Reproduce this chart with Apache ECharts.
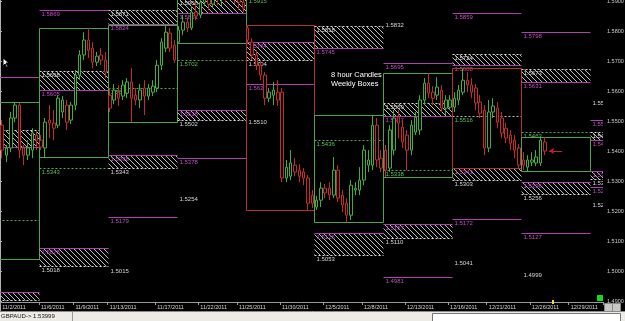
<!DOCTYPE html>
<html><head><meta charset="utf-8">
<script src="https://cdn.jsdelivr.net/npm/echarts@6/dist/echarts.min.js"></script>
<style>html,body{margin:0;padding:0;background:#000;}#c{width:625px;height:321px;}</style>
</head><body><div id="c"></div>
<script>
// 8-hour candles [open, close, low, high]
const candles = [
[1.5486,1.5403,1.5376,1.5503],[1.5386,1.5410,1.5363,1.5420],[1.5410,1.5510,1.5396,1.5530],[1.5510,1.5553,1.5496,1.5563],
[1.5553,1.5403,1.5376,1.5560],[1.5410,1.5386,1.5353,1.5420],[1.5386,1.5410,1.5370,1.5436],[1.5403,1.5460,1.5376,1.5476],
[1.5453,1.5436,1.5403,1.5470],
[1.5436,1.5413,1.5403,1.5453],[1.5410,1.5496,1.5380,1.5510],[1.5503,1.5493,1.5443,1.5553],[1.5493,1.5476,1.5436,1.5536],
[1.5486,1.5576,1.5476,1.5586],[1.5530,1.5570,1.5510,1.5583],[1.5553,1.5496,1.5470,1.5570],[1.5503,1.5553,1.5490,1.5563],
[1.5553,1.5653,1.5536,1.5670],[1.5653,1.5720,1.5636,1.5736],[1.5720,1.5770,1.5703,1.5796],[1.5770,1.5736,1.5710,1.5810],
[1.5743,1.5696,1.5676,1.5763],[1.5696,1.5716,1.5683,1.5730],[1.5720,1.5703,1.5686,1.5743],[1.5703,1.5663,1.5643,1.5730],
[1.5586,1.5543,1.5530,1.5610],[1.5570,1.5603,1.5556,1.5623],[1.5596,1.5576,1.5550,1.5620],[1.5583,1.5620,1.5570,1.5636],
[1.5593,1.5630,1.5576,1.5643],[1.5630,1.5576,1.5496,1.5676],[1.5586,1.5570,1.5553,1.5610],[1.5570,1.5603,1.5543,1.5623],
[1.5610,1.5583,1.5520,1.5636],[1.5583,1.5610,1.5570,1.5623],[1.5596,1.5616,1.5583,1.5636],[1.5610,1.5686,1.5596,1.5703],
[1.5686,1.5763,1.5670,1.5776],[1.5743,1.5796,1.5730,1.5820],[1.5793,1.5743,1.5730,1.5810],[1.5753,1.5703,1.5693,1.5770],
[1.5763,1.5803,1.5760,1.5816],[1.5803,1.5830,1.5786,1.5853],[1.5830,1.5810,1.5796,1.5843],[1.5810,1.5863,1.5803,1.5883],
[1.5863,1.5850,1.5836,1.5896],[1.5853,1.5896,1.5843,1.5920],[1.5896,1.5930,1.5883,1.5953],[1.5930,1.5890,1.5870,1.5950],
[1.5890,1.5923,1.5876,1.5943],[1.5923,1.5910,1.5886,1.5963],[1.5910,1.5936,1.5883,1.5956],[1.5936,1.5916,1.5896,1.5970],
[1.5916,1.5943,1.5903,1.5963],[1.5943,1.5916,1.5890,1.5956],[1.5916,1.5896,1.5870,1.5930],[1.5896,1.5876,1.5863,1.5916],
[1.5810,1.5770,1.5756,1.5820],[1.5763,1.5720,1.5703,1.5776],[1.5720,1.5686,1.5670,1.5736],[1.5686,1.5653,1.5636,1.5703],
[1.5653,1.5576,1.5553,1.5663],[1.5576,1.5596,1.5563,1.5610],[1.5586,1.5603,1.5553,1.5630],[1.5596,1.5570,1.5550,1.5636],
[1.5596,1.5310,1.5296,1.5610],[1.5310,1.5346,1.5296,1.5370],[1.5316,1.5360,1.5303,1.5403],[1.5353,1.5330,1.5316,1.5376],
[1.5336,1.5316,1.5296,1.5356],[1.5330,1.5310,1.5286,1.5343],[1.5310,1.5226,1.5203,1.5320],[1.5253,1.5226,1.5210,1.5270],
[1.5213,1.5236,1.5203,1.5250],[1.5236,1.5276,1.5213,1.5296],[1.5276,1.5260,1.5243,1.5290],[1.5276,1.5253,1.5236,1.5296],
[1.5253,1.5336,1.5243,1.5380],[1.5336,1.5243,1.5230,1.5353],[1.5253,1.5220,1.5196,1.5270],[1.5226,1.5186,1.5163,1.5243],
[1.5186,1.5286,1.5170,1.5303],[1.5270,1.5276,1.5253,1.5296],[1.5270,1.5303,1.5253,1.5346],[1.5303,1.5403,1.5286,1.5420],
[1.5353,1.5370,1.5330,1.5403],[1.5353,1.5486,1.5336,1.5520],[1.5486,1.5370,1.5346,1.5510],[1.5376,1.5343,1.5330,1.5403],
[1.5403,1.5336,1.5313,1.5420],[1.5343,1.5470,1.5330,1.5486],[1.5403,1.5510,1.5386,1.5536],[1.5513,1.5493,1.5443,1.5536],
[1.5480,1.5430,1.5410,1.5503],[1.5453,1.5403,1.5336,1.5470],[1.5403,1.5486,1.5386,1.5503],[1.5463,1.5513,1.5453,1.5530],
[1.5470,1.5570,1.5453,1.5586],[1.5570,1.5626,1.5553,1.5643],[1.5626,1.5593,1.5576,1.5660],[1.5596,1.5576,1.5553,1.5616],
[1.5586,1.5613,1.5570,1.5646],[1.5603,1.5543,1.5530,1.5620],[1.5543,1.5570,1.5520,1.5586],[1.5546,1.5570,1.5536,1.5586],
[1.5546,1.5576,1.5530,1.5596],[1.5570,1.5603,1.5553,1.5620],[1.5596,1.5636,1.5586,1.5676],[1.5636,1.5620,1.5596,1.5663],
[1.5620,1.5596,1.5576,1.5643],[1.5610,1.5560,1.5536,1.5623],[1.5563,1.5526,1.5510,1.5586],[1.5536,1.5410,1.5386,1.5553],
[1.5410,1.5530,1.5396,1.5570],[1.5530,1.5550,1.5510,1.5576],[1.5543,1.5496,1.5476,1.5563],[1.5510,1.5460,1.5443,1.5530],
[1.5476,1.5443,1.5426,1.5493],[1.5453,1.5426,1.5403,1.5470],[1.5436,1.5403,1.5376,1.5453],[1.5410,1.5353,1.5343,1.5423],
[1.5370,1.5353,1.5336,1.5396],[1.5346,1.5370,1.5333,1.5386],[1.5363,1.5370,1.5350,1.5396],[1.5360,1.5380,1.5350,1.5403],
[1.5360,1.5436,1.5350,1.5446],[1.5430,1.5400,1.5386,1.5446]
];
const nSlots = 140;
const lastPrice = 1.53999;

// weekly boxes and projected levels
const weekStart = [-7, 9, 25, 41, 57, 73, 89, 105, 121, 137];
const weekEnd   = [9, 25, 41, 57, 73, 89, 105, 121, 137, 153];
const boxHigh   = [1.5563, 1.5810, 1.5820, 1.5970, 1.5820, 1.5520, 1.5660, 1.5676, 1.5446, null];
const boxLow    = [1.5040, 1.5380, 1.5496, 1.5760, 1.5203, 1.5163, 1.5313, 1.5343, 1.5333, null];
const boxBull   = [true, true, true, true, false, true, true, false, true, null];
const dashLvl   = [1.5170, 1.5343, 1.5611, 1.5702, 1.5915, 1.5436, 1.5338, 1.5516, 1.5463, null];
const upW       = [1.5470, 1.5668, 1.5871, 1.5908, null, 1.5818, 1.5559, 1.5724, 1.5673, 1.5463];
const upM       = [1.5413, 1.5605, 1.5824, 1.5861, null, 1.5745, 1.5517, 1.5688, 1.5631, 1.5437];
const upLine    = [1.5647, 1.5869, null, null, null, null, 1.5695, 1.5859, 1.5798, 1.5503];
const upText    = [null, null, null, null, null, null, 1.5832, null, null, 1.5573];
const loM       = [1.4930, 1.5078, 1.5388, 1.5538, 1.5764, 1.5126, 1.5157, 1.5343, 1.5296, 1.5333];
const loW       = [1.4905, 1.5018, 1.5343, 1.5502, 1.5704, 1.5053, 1.5110, 1.5303, 1.5256, 1.5307];
const loLine    = [null, null, 1.5179, 1.5378, 1.5622, null, 1.4981, 1.5172, 1.5127, 1.5280];
const loText    = [null, null, 1.5015, 1.5254, 1.5510, null, null, 1.5041, 1.4999, 1.5233];

// date ticks
const tickIdx = [0, 9, 17, 25, 36, 46, 55, 65, 75, 84, 94, 104, 113, 123, 132];
const tickLbl = ['11/2/2011','11/6/2011','11/9/2011','11/13/2011','11/17/2011','11/22/2011','11/25/2011','11/30/2011','12/5/2011','12/8/2011','12/13/2011','12/16/2011','12/21/2011','12/26/2011','12/29/2011'];

const cats = Array.from({length: nSlots}, (_, i) => i);

// hatch pattern
const HT = 5;
const hc = document.createElement('canvas'); hc.width = HT; hc.height = HT;
(function(){ const g = hc.getContext('2d'); const im = g.createImageData(HT,HT);
  for (let k=0;k<HT;k++){ const o=(k*HT+k)*4; im.data[o]=190; im.data[o+1]=190; im.data[o+2]=190; im.data[o+3]=255; }
  g.putImageData(im,0,0); })();

const GREEN='#4aa84a', RED='#b3302c', MAG='#b040b0', MAGT='#c050c0', WHT='#d8d8d8', GTXT='#5cc05c';
const FONT = '6px "Liberation Sans", Arial, sans-serif';

function renderWeek(params, api){
  const i = params.dataIndex;
  const s = weekStart[i], e = weekEnd[i];
  const x0 = Math.round(api.coord([s, 1.54])[0]) + 0.5;
  const x1 = Math.round(api.coord([e, 1.54])[0]) + 0.5;
  const Y = p => Math.round(api.coord([s, p])[1]) + 0.5;
  const ch = [];
  const line = (p, color, dash) => ch.push({type:'line', shape:{x1:x0, y1:Y(p), x2:x1, y2:Y(p)},
      style:{stroke:color, lineWidth:1, lineDash: dash || null}});
  const label = (p, txt, color) => ch.push({type:'text', x:x0+2, y:Y(p)+1,
      style:{text:txt, fill:color, font:FONT, align:'left', verticalAlign:'top'}});
  const hatch = (a, b) => { const ya=Y(a), yb=Y(b);
      ch.push({type:'rect', shape:{x:x0, y:Math.min(ya,yb), width:x1-x0, height:Math.abs(yb-ya)},
        style:{fill:{image:hc, repeat:'repeat'}}}); };
  if (upW[i]!=null){ hatch(upW[i], upM[i]); line(upW[i], WHT, [2,2]); line(upM[i], MAG);
    label(upW[i], upW[i].toFixed(4), WHT); label(upM[i], upM[i].toFixed(4), MAGT); }
  if (loM[i]!=null){ hatch(loM[i], loW[i]); line(loM[i], MAG); line(loW[i], WHT, [2,2]);
    label(loM[i], loM[i].toFixed(4), MAGT); label(loW[i], loW[i].toFixed(4), WHT); }
  if (upLine[i]!=null){ line(upLine[i], MAG); label(upLine[i], upLine[i].toFixed(4), MAGT); }
  if (loLine[i]!=null){ line(loLine[i], MAG); label(loLine[i], loLine[i].toFixed(4), MAGT); }
  if (upText[i]!=null) label(upText[i], upText[i].toFixed(4), WHT);
  if (loText[i]!=null) label(loText[i], loText[i].toFixed(4), WHT);
  if (dashLvl[i]!=null){ line(dashLvl[i], boxBull[i] ? '#5aa85a' : '#bbbbbb', [2,2]);
    label(dashLvl[i], dashLvl[i].toFixed(4), GTXT); }
  if (boxHigh[i]!=null){ const yh=Y(boxHigh[i]), yl=Y(boxLow[i]);
    ch.push({type:'rect', shape:{x:x0, y:yh, width:x1-x0, height:yl-yh},
      style:{fill:'none', stroke: boxBull[i] ? GREEN : RED, lineWidth:1}}); }
  return {type:'group', children:ch};
}

const chart = echarts.init(document.getElementById('c'), null, {renderer:'canvas'});
chart.setOption({
  animation:false,
  backgroundColor:'#000',
  grid:[{left:0, right:22, top:-29, height:360, containLabel:false, outerBoundsMode:'none'},
        {left:0, right:22, top:301, height:1, containLabel:false, outerBoundsMode:'none'}],
  xAxis:[
    {type:'category', gridIndex:0, data:cats, boundaryGap:true, show:false},
    {type:'value', gridIndex:0, min:0, max:nSlots, show:false},
    {type:'category', gridIndex:1, data:cats, boundaryGap:true,
     axisLine:{lineStyle:{color:'#9a9a9a'}},
     axisTick:{show:true, length:3, interval:(idx)=>tickIdx.includes(idx), lineStyle:{color:'#9a9a9a'}},
     axisLabel:{interval:(idx)=>tickIdx.includes(idx), formatter:(v)=>tickLbl[tickIdx.indexOf(Number(v))],
       color:'#d8d8d8', fontSize:5.5, fontFamily:'Liberation Sans', align:'left', margin:2}}
  ],
  yAxis:[
    {type:'value', gridIndex:0, position:'right', min:1.48, max:1.60, interval:0.01,
     splitLine:{show:false},
     axisLine:{show:true, lineStyle:{color:'#b0b0b0'}},
     axisTick:{show:true, length:2, lineStyle:{color:'#b0b0b0'}},
     axisLabel:{formatter:(v)=>v.toFixed(4), color:'#d0d0d0', fontSize:5.5, fontFamily:'Liberation Sans', margin:4}},
    {type:'value', gridIndex:1, show:false}
  ],
  series:[
    {type:'custom', xAxisIndex:1, yAxisIndex:0, clip:true, z:2, silent:true,
     data: weekStart.map((s,i)=>[s, weekEnd[i]]), encode:{x:[0,1]}, renderItem:renderWeek},
    {type:'candlestick', xAxisIndex:0, yAxisIndex:0, z:5, data:candles, barWidth:3, silent:true,
     itemStyle:{color:'#000', color0:'#000', borderColor:'#3fae3f', borderColor0:'#c42c2c', borderWidth:1},
     markLine:{silent:true, symbol:'none', animation:false,
       data:[
         [{coord:[127, lastPrice], symbol:'arrow', symbolSize:5}, {coord:[130, lastPrice], symbol:'none'}],
         {yAxis:lastPrice, lineStyle:{opacity:0},
          label:{show:true, position:'end', formatter:'1.5400', color:'#000', backgroundColor:'#fff',
                 fontSize:5.5, fontFamily:'Liberation Sans', padding:[1,2,1,2], distance:2}}
       ],
       lineStyle:{color:'#d02020', type:'solid', width:1}, label:{show:false}}}
  ],
  graphic:[
    {type:'text', left:331, top:71, style:{text:'8 hour Candles', fill:'#fff', font:'7.5px "Liberation Sans", Arial'}},
    {type:'text', left:331, top:80, style:{text:'Weekly Boxes', fill:'#fff', font:'7.5px "Liberation Sans", Arial'}},
    {type:'rect', left:597, top:295, shape:{width:6, height:6}, style:{fill:'#10e010'}, z:100},
    {type:'rect', left:552, top:300, shape:{width:2, height:4}, style:{fill:'#e8e040'}, z:100},
    {type:'rect', left:604, top:303, shape:{width:8, height:8}, style:{fill:'#c8c8c8', stroke:'#888'}, z:100},
    {type:'rect', left:612, top:303, shape:{width:8, height:8}, style:{fill:'#c8c8c8', stroke:'#888'}, z:100},
    {type:'rect', left:0, top:311, shape:{width:625, height:10}, style:{fill:'#ecebe6'}, z:100},
    {type:'line', shape:{x1:0, y1:311.5, x2:625, y2:311.5}, style:{stroke:'#8a8a8a'}, z:101},
    {type:'line', shape:{x1:72.5, y1:312, x2:72.5, y2:321}, style:{stroke:'#9a9a9a'}, z:101},
    {type:'rect', left:432, top:313, shape:{width:188, height:8}, style:{fill:'#fff', stroke:'#777'}, z:101},
    {type:'text', left:1, top:313, style:{text:'GBPAUD-> 1.53999', fill:'#111', font:'6px "Liberation Sans", Arial'}, z:102},
    {type:'polygon', shape:{points:[[3,58],[3,66],[5,64],[7,68],[8,67],[6,63],[9,63]]}, style:{fill:'#fff', stroke:'#000'}, z:100}
  ]
});
</script></body></html>
